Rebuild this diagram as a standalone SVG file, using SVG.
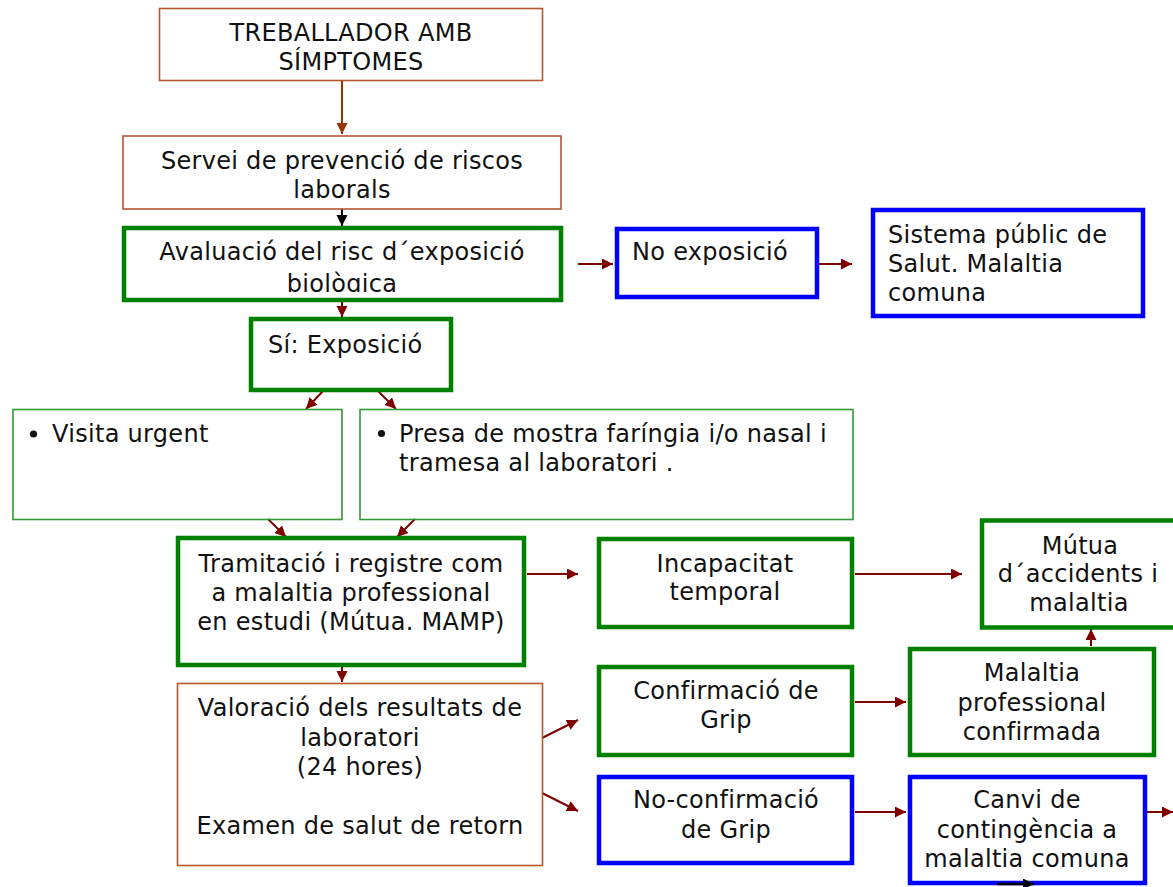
<svg xmlns="http://www.w3.org/2000/svg" width="1173" height="887" viewBox="0 0 1173 887">
<style>
text{font-family:"DejaVu Sans","Liberation Sans",sans-serif;font-size:24px;fill:#111;letter-spacing:0.3px}
.c{text-anchor:middle}
.brown{fill:none;stroke:#b4582e;stroke-width:1.6}
.thin{fill:none;stroke:#339933;stroke-width:1.6}
.green{fill:none;stroke:#008000;stroke-width:4.5}
.blue{fill:none;stroke:#0000ff;stroke-width:4.5}
.ar{fill:none;stroke:#800000;stroke-width:2}
</style>
<defs>
<marker id="mr" markerUnits="userSpaceOnUse" markerWidth="12" markerHeight="12" refX="11" refY="5.5" orient="auto"><path d="M0,0 L11,5.5 L0,11 z" fill="#800000"/></marker>
<marker id="mb" markerUnits="userSpaceOnUse" markerWidth="12" markerHeight="12" refX="11" refY="5.5" orient="auto"><path d="M0,0 L11,5.5 L0,11 z" fill="#993300"/></marker>
<marker id="mk" markerUnits="userSpaceOnUse" markerWidth="12" markerHeight="12" refX="11" refY="5.5" orient="auto"><path d="M0,0 L11,5.5 L0,11 z" fill="#000"/></marker>
<clipPath id="clipA"><rect x="126" y="230" width="433" height="62"/></clipPath>
</defs>
<rect width="1173" height="887" fill="#fff"/>

<g id="connectors">
<line x1="342" y1="81" x2="342" y2="134" stroke="#993300" stroke-width="2" marker-end="url(#mb)"/>
<line x1="342" y1="209" x2="342" y2="226" stroke="#000" stroke-width="2" marker-end="url(#mk)"/>
<line class="ar" x1="342" y1="302" x2="342" y2="317" marker-end="url(#mr)"/>
<line class="ar" x1="578" y1="264" x2="613" y2="264" marker-end="url(#mr)"/>
<line class="ar" x1="819" y1="264" x2="852" y2="264" marker-end="url(#mr)"/>
<line class="ar" x1="323" y1="391" x2="306" y2="409" marker-end="url(#mr)"/>
<line class="ar" x1="378" y1="391" x2="396" y2="409" marker-end="url(#mr)"/>
<line class="ar" x1="268" y1="519" x2="286" y2="537" marker-end="url(#mr)"/>
<line class="ar" x1="415" y1="519" x2="397" y2="537" marker-end="url(#mr)"/>
<line class="ar" x1="527" y1="574" x2="578" y2="574" marker-end="url(#mr)"/>
<line class="ar" x1="855" y1="574" x2="962" y2="574" marker-end="url(#mr)"/>
<line class="ar" x1="1091" y1="646" x2="1091" y2="629" marker-end="url(#mr)"/>
<line class="ar" x1="342" y1="667" x2="342" y2="682" marker-end="url(#mr)"/>
<line class="ar" x1="542" y1="738" x2="578" y2="720" marker-end="url(#mr)"/>
<line class="ar" x1="542" y1="793" x2="578" y2="811" marker-end="url(#mr)"/>
<line class="ar" x1="855" y1="702" x2="906" y2="702" marker-end="url(#mr)"/>
<line class="ar" x1="855" y1="812" x2="906" y2="812" marker-end="url(#mr)"/>
<line class="ar" x1="1147" y1="812" x2="1173" y2="812" marker-end="url(#mr)"/>
</g>

<g id="n1">
<rect class="brown" x="159.5" y="8.5" width="383" height="72"/>
<text class="c" x="351" y="41">TREBALLADOR AMB</text>
<text class="c" x="351" y="70">SÍMPTOMES</text>
</g>

<g id="n2">
<rect class="brown" x="123" y="136" width="438" height="73"/>
<text class="c" x="342" y="169">Servei de prevenció de riscos</text>
<text class="c" x="342" y="198">laborals</text>
</g>

<g id="n3">
<text class="c" x="342" y="260">Avaluació del risc d´exposició</text>
<text class="c" x="342" y="291.5" clip-path="url(#clipA)">biològica</text>
<rect class="green" x="124" y="228" width="437" height="72"/>
</g>

<g id="n4">
<rect class="blue" x="617" y="229" width="200" height="68"/>
<text x="632" y="260">No exposició</text>
</g>

<g id="n5">
<rect class="blue" x="873" y="210" width="270" height="106"/>
<text x="888" y="243">Sistema públic de</text>
<text x="888" y="272">Salut. Malaltia</text>
<text x="888" y="301">comuna</text>
</g>

<g id="n6">
<rect class="green" x="251" y="319" width="200" height="71"/>
<text x="268" y="353">Sí: Exposició</text>
</g>

<g id="n7">
<rect class="thin" x="13" y="409.5" width="329" height="110"/>
<circle cx="33.5" cy="434" r="3.6" fill="#111"/>
<text x="52" y="442">Visita urgent</text>
</g>

<g id="n8">
<rect class="thin" x="360" y="409.5" width="493" height="110"/>
<circle cx="381.5" cy="433.5" r="3.6" fill="#111"/>
<text x="399" y="442">Presa de mostra faríngia i/o nasal i</text>
<text x="399" y="471">tramesa al laboratori .</text>
</g>

<g id="n9">
<rect class="green" x="178" y="538" width="346" height="127"/>
<text class="c" x="351" y="572">Tramitació i registre com</text>
<text class="c" x="351" y="601">a malaltia professional</text>
<text class="c" x="351" y="630">en estudi (Mútua. MAMP)</text>
</g>

<g id="n10">
<rect class="green" x="599" y="539" width="253" height="88"/>
<text class="c" x="725" y="572">Incapacitat</text>
<text class="c" x="725" y="600">temporal</text>
</g>

<g id="n11">
<rect class="green" x="982" y="520.5" width="200" height="107"/>
<text class="c" x="1080" y="554">Mútua</text>
<text class="c" x="1078" y="582">d´accidents i</text>
<text class="c" x="1079" y="611">malaltia</text>
</g>

<g id="n12">
<rect class="green" x="599" y="667" width="253" height="88"/>
<text class="c" x="726" y="699">Confirmació de</text>
<text class="c" x="726" y="728">Grip</text>
</g>

<g id="n13">
<rect class="green" x="910" y="649" width="244" height="106"/>
<text class="c" x="1032" y="681">Malaltia</text>
<text class="c" x="1032" y="711">professional</text>
<text class="c" x="1032" y="740">confirmada</text>
</g>

<g id="n14">
<rect class="brown" x="177.5" y="683.5" width="365" height="182"/>
<text class="c" x="360" y="716">Valoració dels resultats de</text>
<text class="c" x="360" y="746">laboratori</text>
<text class="c" x="360" y="775">(24 hores)</text>
<text class="c" x="360" y="834">Examen de salut de retorn</text>
</g>

<g id="n15">
<rect class="blue" x="599" y="777" width="253" height="86"/>
<text class="c" x="726" y="808">No-confirmació</text>
<text class="c" x="726" y="838">de Grip</text>
</g>

<g id="n16">
<rect class="blue" x="910" y="777" width="235" height="106"/>
<text class="c" x="1027" y="808">Canvi de</text>
<text class="c" x="1027" y="838">contingència a</text>
<text class="c" x="1027" y="867">malaltia comuna</text>
<line x1="997" y1="884" x2="1034" y2="884" stroke="#000" stroke-width="2.5" marker-end="url(#mk)"/>
</g>
</svg>
